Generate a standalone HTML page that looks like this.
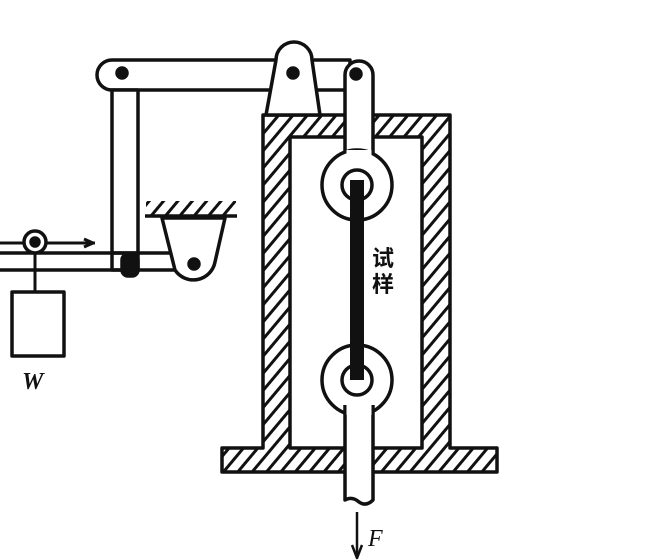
<!DOCTYPE html>
<html><head><meta charset="utf-8"><style>
html,body{margin:0;padding:0;background:#fff;width:655px;height:560px;overflow:hidden}
</style></head><body>
<svg width="655" height="560" viewBox="0 0 655 560" xmlns="http://www.w3.org/2000/svg">
<defs>
<pattern id="h" patternUnits="userSpaceOnUse" width="11" height="11" patternTransform="rotate(40)">
<rect width="11" height="11" fill="#fff"/>
<rect x="0" y="0" width="3" height="11" fill="#111"/>
</pattern>
</defs>
<g stroke="#111" stroke-width="3.5" fill="#fff" stroke-linejoin="round">
<!-- frame -->
<path d="M263,115 H450 V448 H497 V472 H222 V448 H263 Z" fill="url(#h)"/>
<rect x="290" y="137" width="132" height="311" fill="#fff"/>
<!-- top beam -->
<path d="M112,60 H350 V90 H112 A15,15 0 0 1 112,60 Z"/>
<!-- vertical bar -->
<rect x="112" y="90" width="26" height="165"/>
<!-- bracket on top -->
<path d="M266,115 L276,60 A18,18 0 0 1 312,60 L320,115 Z"/>
<circle cx="293" cy="73" r="5" fill="#111"/>
<!-- lower horizontal beam -->
<path d="M0,253 H185 V270 H0"/>
<!-- ground bracket -->
<rect x="146" y="201" width="90" height="14" fill="url(#h)" stroke="none"/>
<line x1="145" y1="216" x2="237" y2="216"/>
<path d="M162,218 L225,218 L215,262 A22,22 0 0 1 175,270 Z"/>
<circle cx="194" cy="264" r="5" fill="#111"/>
<rect x="122" y="254" width="16" height="22" rx="6" fill="#111"/>
<rect x="112" y="253" width="26" height="17" fill="none"/>
<circle cx="122" cy="73" r="5" fill="#111"/>
<!-- roller and weight -->
<line x1="0" y1="243" x2="95" y2="243" stroke-width="3"/>
<path d="M72,243 H92 M84,239 L93,243 L84,247" stroke-width="3" fill="none"/>
<line x1="35" y1="243" x2="35" y2="292" stroke-width="3"/>
<circle cx="35" cy="242" r="11"/>
<circle cx="35" cy="242" r="4" fill="#111"/>
<rect x="12" y="292" width="52" height="64"/>
<!-- link -->
<path d="M345,75 A14,14 0 0 1 373,75 V160 L345,160 Z"/>
<circle cx="357" cy="185" r="35"/>
<rect x="346.5" y="150" width="25" height="25" stroke="none"/>
<circle cx="357" cy="185" r="15"/>
<circle cx="357" cy="380" r="35"/>
<path d="M345,405 V500 Q352,496 359,502 Q366,507 373,500 V405" />
<rect x="346.5" y="395" width="25" height="20" stroke="none"/>
<circle cx="357" cy="380" r="15"/>
<circle cx="356" cy="74" r="5" fill="#111"/>
<rect x="350" y="180" width="14" height="200" fill="#111" stroke="none"/>
<!-- F arrow -->
<line x1="357" y1="512" x2="357" y2="556" stroke-width="2.5"/>
<path d="M352,545 L357,558 L362,545" fill="none" stroke-width="2.5"/>
</g>
<text x="372" y="266" font-family="Liberation Sans, 'Noto Sans CJK SC', sans-serif" font-size="22" font-weight="bold" fill="#111">试</text>
<text x="372" y="292" font-family="Liberation Sans, 'Noto Sans CJK SC', sans-serif" font-size="22" font-weight="bold" fill="#111">样</text>
<text x="22" y="389" font-family="Liberation Serif, serif" font-style="italic" font-weight="bold" font-size="24" fill="#111">W</text>
<text x="368" y="546" font-family="Liberation Serif, serif" font-style="italic" font-size="24" fill="#111">F</text>
</svg>
</body></html>
